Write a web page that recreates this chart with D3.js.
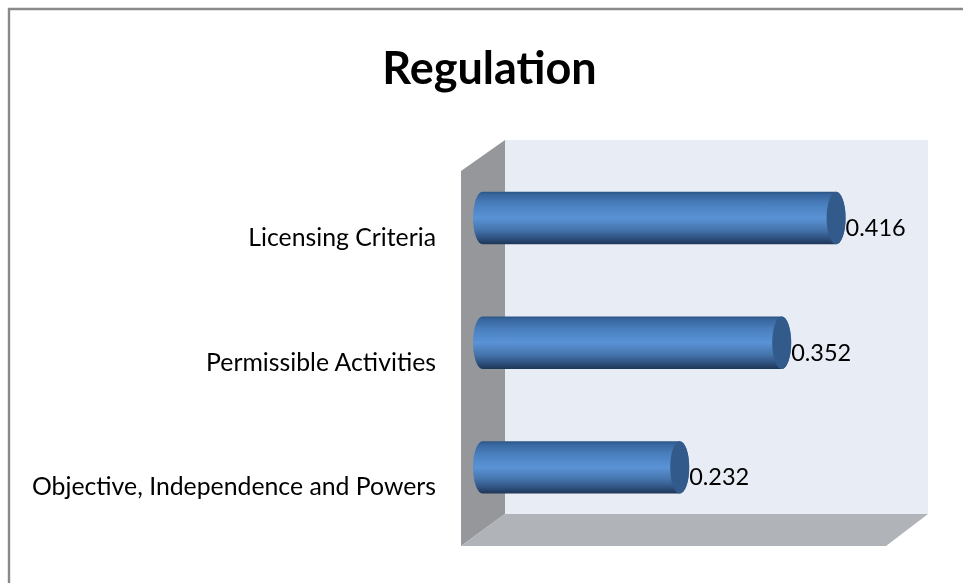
<!DOCTYPE html>
<html><head><meta charset="utf-8">
<script src="https://cdnjs.cloudflare.com/ajax/libs/d3/7.8.5/d3.min.js"></script>
<style>html,body{margin:0;padding:0;background:#fff;overflow:hidden}svg{display:block}text{font-family:Lato,"Open Sans",sans-serif;fill:#000}</style>
</head><body><svg id="c" width="963" height="583"></svg>
<script>
const categories = ["Licensing Criteria","Permissible Activities","Objective, Independence and Powers"];
const values = [0.416,0.352,0.232];
const titleText = "Regulation";

const svg = d3.select("#c");
const x = d3.scaleLinear().domain([0,0.5]).range([482.5,907.5]);
const y = d3.scaleBand().domain(categories).range([155.7,529.7]).paddingInner(0.58).paddingOuter(0.29);
const rx = 9.5;

const defs = svg.append("defs");
const g = defs.append("linearGradient").attr("id","bar").attr("x1",0).attr("x2",0).attr("y1",0).attr("y2",1);
[[0,"#2c5585"],[0.06,"#38679f"],[0.25,"#4a80bf"],[0.5,"#5a93d6"],[0.72,"#4675ad"],[0.88,"#2f5382"],[1,"#1e3556"]]
 .forEach(([o,c])=>g.append("stop").attr("offset",o).attr("stop-color",c));
const soft = defs.append("filter").attr("id","soft");
soft.append("feGaussianBlur").attr("stdDeviation",0.5);
const softText = defs.append("filter").attr("id","softText").attr("x","-5%").attr("y","-10%").attr("width","110%").attr("height","120%");
softText.append("feGaussianBlur").attr("stdDeviation",0.3);

// frame
svg.append("path").attr("d","M9,583V9H963").attr("fill","none").attr("stroke","#8a8a8a").attr("stroke-width",2.4);

// walls
const walls = svg.append("g").attr("filter","url(#soft)");
walls.append("rect").attr("x",505).attr("y",140).attr("width",423).attr("height",374).attr("fill","#e8ecf5");
walls.append("path").attr("d","M461,171L505,140V514L461,546Z").attr("fill","#96979b");
walls.append("path").attr("d","M461,546L505,514H928L886,546Z").attr("fill","#b0b3b7");

// bars
const bars = svg.append("g").attr("filter","url(#soft)").selectAll("g").data(values).join("g");
bars.append("path").attr("fill","url(#bar)").attr("d",(d,i)=>{
  const t=y(categories[i]), h=y.bandwidth(), x0=x(0), x1=x(d);
  return `M${x0},${t}H${x1}A${rx},${h/2} 0 0 1 ${x1},${t+h}H${x0}A${rx},${h/2} 0 0 1 ${x0},${t}Z`;
});
bars.append("ellipse").attr("fill","#335a8a")
  .attr("cx",d=>x(d)).attr("cy",(d,i)=>y(categories[i])+y.bandwidth()/2)
  .attr("rx",rx).attr("ry",y.bandwidth()/2);

// category axis
const axis = svg.append("g").attr("transform","translate(436,20)").attr("filter","url(#softText)")
  .call(d3.axisLeft(y).tickSize(0).tickPadding(0));
axis.select(".domain").remove();
axis.selectAll("text").attr("font-size",24.8).style("font-family","Lato").attr("fill","#000");

// value labels
svg.append("g").attr("filter","url(#softText)").selectAll("text").data(values).join("text")
  .attr("x",d=>x(d)+rx).attr("y",(d,i)=>y(categories[i])+y.bandwidth()/2+18)
  .attr("font-size",23.5).text(d=>d3.format(".3f")(d));

// title
svg.append("text").attr("x",489.5).attr("y",84).attr("text-anchor","middle").attr("filter","url(#softText)")
  .attr("font-size",45).attr("font-weight",700).text(titleText);
</script></body></html>
